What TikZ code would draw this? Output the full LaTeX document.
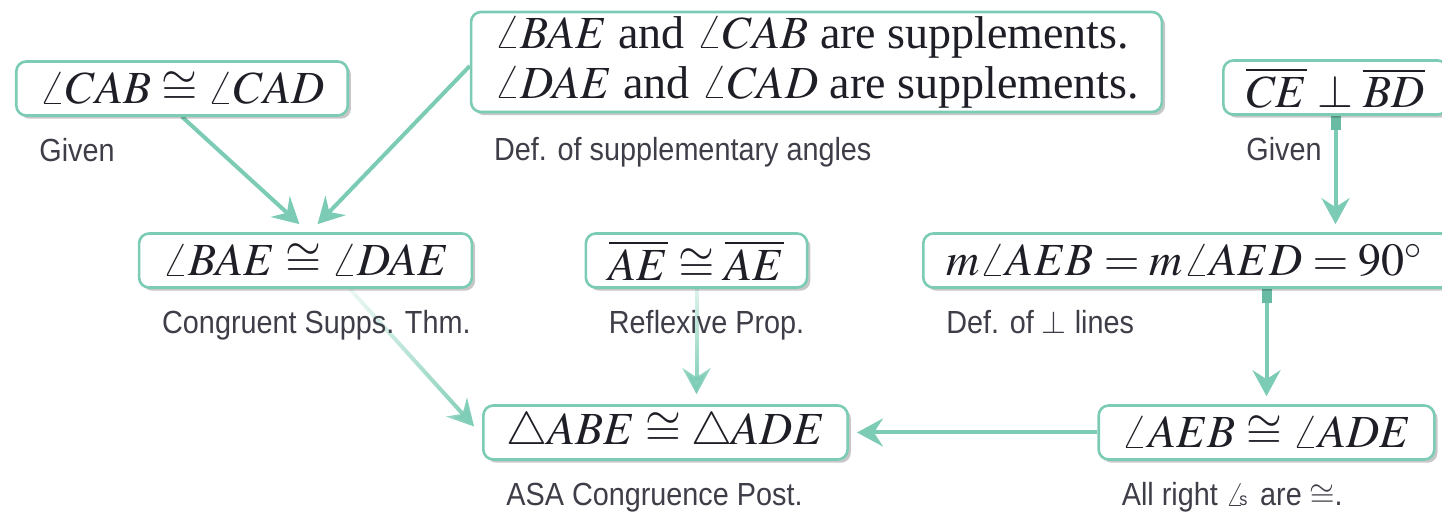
\documentclass[tikz,border=0pt]{standalone}
\usepackage{mathptmx}
\usepackage{fontspec}
\setmainfont{Liberation Serif}
\newfontfamily\labfont[FakeStretch=0.9]{Liberation Sans}
\usepackage{tikz}
\usetikzlibrary{positioning,arrows.meta,shadows,fadings,backgrounds}

\definecolor{flowteal}{RGB}{124,204,181}
\definecolor{stubteal}{RGB}{104,186,162}
\definecolor{labgray}{RGB}{62,62,72}
\definecolor{mathgray}{RGB}{30,30,38}

\tikzfading[name=fadeeast, left color=transparent!88, right color=transparent!0]
\tikzfading[name=fadesouth, top color=transparent!75, bottom color=transparent!0]

\newcommand{\angs}{\makebox[0pt][l]{$\angle$}\hspace{0.42em}{\fontsize{9}{9}\selectfont s}\hspace{0.15em}}

\tikzset{
  stmt/.style={draw=flowteal, line width=1.3pt, rounded corners=5pt, fill=white,
    inner xsep=11.5pt, inner ysep=1pt, minimum height=27pt, text=mathgray,
    font=\fontsize{23}{25}\selectfont,
    drop shadow={shadow xshift=1.6pt, shadow yshift=-1.6pt, opacity=0.22, fill=black}},
  lab/.style={font=\labfont\fontsize{16}{18}\selectfont, text=labgray,
    anchor=base west, inner sep=0pt},
  flow/.style={draw=flowteal, line width=2pt,
    -{Stealth[length=13pt, width=14pt, inset=4.5pt]}},
  stub/.style={draw=stubteal, line width=5pt}
}

\begin{document}
\begin{tikzpicture}[x=0.5pt, y=-0.5pt]
  \useasboundingbox (0,0) rectangle (1442,512);

  % statements
  \node[stmt] (cab) at (182,88.5) {$\angle CAB \cong \angle CAD$};
  \node[stmt, align=left, minimum height=50pt] (supp) at (816.5,62)
    {$\angle BAE$ and $\angle CAB$ are supplements.\\
     $\angle DAE$ and $\angle CAD$ are supplements.};
  \node[stmt] (perp) at (1335.5,87.5) {$\overline{CE}\perp\overline{BD}$};
  \node[stmt] (bae) at (305.5,260.5) {$\angle BAE \cong \angle DAE$};
  \node[stmt] (refl) at (696.5,260.5) {$\overline{AE}\cong\overline{AE}$};
  \node[stmt, anchor=west, text width=242pt, align=left] (right) at (922,260.5)
    {$m\angle AEB = m\angle AED = 90^\circ$};
  \node[stmt] (tri) at (665.5,432.5) {$\triangle ABE \cong \triangle ADE$};
  \node[stmt] (aeb) at (1266.5,432.5) {$\angle AEB \cong \angle ADE$};

  % reasons
  \node[lab] (rcab) at ([xshift=12pt, yshift=-22.5pt]cab.south west) {Given};
  \node[lab] (rsupp) at ([xshift=12pt, yshift=-23.5pt]supp.south west) {Def. of supplementary angles};
  \node[lab] (rperp) at ([xshift=12pt, yshift=-22.5pt]perp.south west) {Given};
  \node[lab] (rbae) at ([xshift=12pt, yshift=-22.5pt]bae.south west) {Congruent Supps. Thm.};
  \node[lab] (rrefl) at ([xshift=12pt, yshift=-22.5pt]refl.south west) {Reflexive Prop.};
  \node[lab] (rright) at ([xshift=12pt, yshift=-22.5pt]right.south west) {Def. of $\perp$ lines};
  \node[lab] (rtri) at ([xshift=12pt, yshift=-22.5pt]tri.south west) {ASA Congruence Post.};
  \node[lab] (raeb) at ([xshift=12pt, yshift=-22.5pt]aeb.south west) {All right \angs{} are $\cong$.};

  \begin{scope}[on background layer]
    \draw[flow] (cab.south) -- ([xshift=-3pt, yshift=4pt]bae.north);
    \draw[flow] ([yshift=-2pt]supp.west) -- ([xshift=6pt, yshift=4pt]bae.north);
    \draw[flow] (perp.south) -- ([yshift=4pt]perp.south |- right.north);
    \draw[stub] (perp.south) -- ++(0,14);
    \draw[flow, path fading=fadeeast] ([xshift=22pt]bae.south) -- ([xshift=-4pt, yshift=3pt]tri.west);
    \draw[flow, path fading=fadesouth] ([xshift=-12pt]refl.south) ([xshift=12pt]refl.south)
      (refl.south) -- ([yshift=5pt]refl.south |- tri.north);
    \draw[flow] (right.south -| aeb.north) -- ([yshift=4pt]aeb.north);
    \draw[stub] (right.south -| aeb.north) -- ++(0,14);
    \draw[flow] (aeb.west) -- ([xshift=4pt]tri.east);
  \end{scope}
\end{tikzpicture}
\end{document}
